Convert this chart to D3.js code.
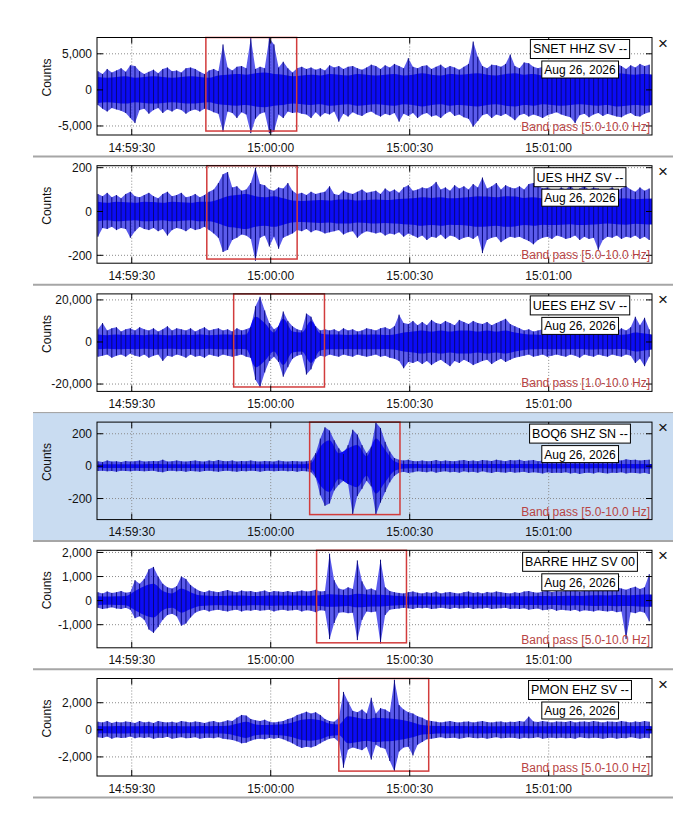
<!DOCTYPE html>
<html>
<head>
<meta charset="utf-8">
<script src="https://cdn.jsdelivr.net/npm/d3@7"></script>
<style>
body { margin: 0; background: #fff; }
svg { display: block; font-family: "Liberation Sans", Arial, sans-serif; }
</style>
</head>
<body>
<svg id="chart" width="694" height="832"></svg>
<script>
// panel settings
const stationNames = ["SNET HHZ SV --", "UES HHZ SV --", "UEES EHZ SV --", "BOQ6 SHZ SN --", "BARRE HHZ SV 00", "PMON EHZ SV --"];
const dateLabel = "Aug 26, 2026";
const bandLabels = ["Band pass [5.0-10.0 Hz]", "Band pass [5.0-10.0 Hz]", "Band pass [1.0-10.0 Hz]",
                    "Band pass [5.0-10.0 Hz]", "Band pass [5.0-10.0 Hz]", "Band pass [5.0-10.0 Hz]"];
const yDomains = [[-6250, 7260], [-236, 209], [-23500, 22860], [-330, 272], [-1960, 2090], [-3410, 3790]];
const yTickVals = [[-5000, 0, 5000], [-200, 0, 200], [-20000, 0, 20000], [-200, 0, 200], [-1000, 0, 1000, 2000], [-2000, 0, 2000]];
// red window: seconds after 14:59:00 and counts
const boxStart = [46.0, 46.2, 52.0, 68.4, 69.9, 74.7];
const boxEnd   = [65.6, 65.7, 71.6, 87.9, 89.3, 94.1];
const boxLow   = [-5700, -217, -21400, -299, -1753, -3048];
const boxHigh  = [7260, 209, 22860, 272, 2090, 3790];

// waveform envelopes, one value per second from 14:59:22.7 (hi / lo peaks, counts)
// core = half width of the dense band, one value every 2 s
const snetHi = [
2600,2200,2900,2400,2700,3000,2500,3400,3300,2600,
2200,2500,2800,2300,2900,3100,2600,2700,2400,3000,
3100,2900,2500,2200,2700,2900,2600,6300,3100,2700,
3200,3300,3000,7200,2900,3200,3000,7200,6300,3100,
3900,3000,2400,3000,3200,2900,3100,2800,3000,2700,
3400,3100,3300,2900,3200,3300,3000,2800,3100,3500,
3300,2900,3400,3100,3600,3300,3000,4400,3200,3000,
3300,3400,2900,3200,3500,3000,3300,3100,2800,3200,
3600,6700,4600,3300,3000,3500,3400,3200,3600,4900,
3300,3000,3800,3700,3200,3000,3200,2900,3100,3300,
2900,3000,2800,3200,3000,2700,3100,2900,3300,3500,
3200,3000,3600,3300,2900,3400,3100,3600,3300,3500];
const snetLo = [
-2100,-2600,-3000,-2500,-2700,-2900,-3200,-3900,-4600,-2800,
-2600,-3300,-2800,-2500,-3200,-2700,-3000,-2600,-2800,-3300,
-2900,-2700,-3000,-2600,-2800,-3100,-3300,-5800,-3000,-3200,
-3900,-3100,-3400,-6000,-4000,-3300,-3100,-6000,-5800,-3400,
-3900,-3000,-3200,-3100,-3300,-3400,-3900,-3100,-3700,-3200,
-3400,-3000,-4400,-3300,-3700,-3100,-3400,-3600,-3200,-3000,
-3400,-3700,-3300,-3500,-3200,-4400,-3300,-3600,-3200,-3900,
-3400,-3200,-3700,-3500,-3900,-3300,-3000,-3600,-3400,-3800,
-4000,-5100,-4300,-3500,-3300,-3900,-3400,-3600,-3300,-3700,
-4200,-3500,-3300,-3700,-3400,-3600,-3900,-3500,-3300,-3100,
-3400,-3600,-3800,-4600,-3500,-3300,-3800,-3400,-3200,-3600,
-3300,-3500,-3700,-3800,-3400,-3200,-3600,-3700,-3300,-3100];
const snetCore = [
1800,1700,1800,1900,1700,1800,1900,1800,1700,1800,
1900,1800,1700,2000,2100,2200,2100,2300,2400,2200,
2100,1900,2000,2100,2000,2200,2100,2000,2200,2100,
2000,2100,2200,2000,2100,2300,2100,2000,2200,2100,
2200,2300,2100,2000,2200,2300,2100,2200,2000,2100,
2200,2100,2000,2100,2200,2100,2300,2200,2100,2200,2100];

const uesHi = [
80,70,85,65,75,60,80,90,70,65,
75,85,70,60,80,90,70,75,85,65,
70,80,65,75,90,100,130,170,180,110,
115,95,100,130,200,125,120,100,95,110,
105,130,95,80,85,75,90,80,85,90,
115,80,75,95,85,80,90,100,85,90,
95,80,105,90,100,85,110,120,95,100,
110,105,115,135,100,110,95,120,105,115,
100,125,110,155,105,115,130,100,120,110,
105,115,100,125,130,120,105,110,100,95,
110,100,120,95,105,115,100,110,105,95,
100,110,95,105,115,100,90,110,95,105];
const uesLo = [
-115,-75,-80,-70,-85,-75,-80,-120,-90,-70,
-80,-85,-75,-90,-80,-110,-85,-75,-80,-90,
-75,-85,-80,-70,-85,-100,-120,-185,-175,-130,
-120,-105,-110,-125,-225,-120,-110,-160,-115,-170,
-120,-110,-100,-85,-90,-80,-95,-85,-90,-100,
-95,-90,-85,-105,-95,-90,-120,-100,-90,-95,
-100,-95,-110,-100,-105,-95,-115,-100,-110,-120,
-110,-130,-115,-120,-105,-125,-110,-115,-130,-120,
-115,-125,-110,-190,-130,-120,-115,-140,-125,-115,
-120,-115,-125,-135,-150,-130,-120,-115,-125,-110,
-115,-125,-120,-110,-130,-115,-125,-120,-175,-130,
-115,-120,-110,-125,-115,-120,-110,-125,-115,-130];
const uesCore = [
45,40,45,42,40,45,43,40,45,42,
40,45,45,55,70,75,80,70,65,70,
60,50,48,50,52,50,55,55,50,52,
55,52,55,58,60,65,62,65,60,62,
65,70,68,65,70,68,62,65,60,62,
60,58,62,60,58,55,58,60,56,58,60];

const ueesHi = [
6000,9000,5500,6500,7000,5000,6000,6500,5500,7000,
6000,5500,6500,5000,6000,7500,5500,6500,6000,5500,
6500,5000,6000,7000,5500,6000,6500,5500,6000,5000,
6500,5500,6000,7000,17000,21500,15000,9000,6000,7500,
14500,10000,7500,6000,5500,13500,12000,7500,5500,6000,
5500,6000,5000,6500,5500,6000,5000,5500,6500,6000,
5500,6500,7000,6000,7500,13000,9000,8500,10000,8000,
9500,8000,10500,9000,8500,10000,9000,8000,10500,9500,
8500,10000,9000,8500,9500,8000,9000,10000,11000,8500,
7500,6500,5500,6000,5000,5500,6000,5000,7000,5500,
5000,6000,5500,5000,6000,5500,5000,6500,5500,6000,
5500,6000,5000,6500,5500,7000,12000,8000,11500,6000];
const ueesLo = [
-7000,-6500,-6000,-7500,-6500,-6000,-7000,-5500,-6500,-7000,
-6000,-7500,-6500,-6000,-9000,-6500,-7000,-6000,-6500,-7500,
-6000,-7000,-6500,-7500,-6000,-6500,-7000,-6000,-6500,-7000,
-6500,-6000,-7000,-7500,-18000,-21500,-14500,-9000,-7000,-9500,
-16500,-12000,-8000,-6500,-6000,-15500,-13000,-8000,-6500,-7000,
-6000,-6500,-7000,-6000,-6500,-7000,-6000,-6500,-7000,-6500,
-6000,-7000,-6500,-7500,-8000,-9000,-12500,-9500,-10000,-9000,
-10500,-9000,-11000,-9500,-8500,-10000,-11500,-9000,-10000,-8500,
-9500,-11000,-10000,-9000,-8500,-10500,-9000,-8000,-9500,-8500,
-7500,-7000,-6500,-6000,-7000,-6500,-6000,-7000,-6500,-6000,
-6500,-7000,-6000,-6500,-7500,-6000,-6500,-7000,-6000,-6500,
-7000,-6000,-6500,-7000,-6000,-6500,-10000,-8000,-11500,-7000];
const ueesCore = [
3500,3200,3500,3300,3400,3200,3500,3300,3200,3400,
3300,3500,3200,3400,3500,3300,3500,12000,9000,4500,
11000,5000,4500,10000,4000,3500,3500,3300,3500,3400,
3500,3300,3600,4500,5000,5500,5000,5500,5000,5500,
5500,5000,5500,5000,5500,4500,3800,3500,3300,3500,
3400,3500,3300,3600,3400,3500,3300,3500,4500,4000,3500];

const boqHi = [
30,25,35,28,30,25,32,28,30,35,
28,30,32,30,40,28,30,35,30,28,
32,35,30,28,35,30,38,32,30,35,
28,32,30,35,30,28,32,30,28,35,
30,28,32,30,28,30,35,80,170,240,
220,160,110,75,130,225,195,130,80,120,
270,235,150,90,50,40,35,40,32,30,
35,30,32,38,30,35,32,30,35,38,
32,35,30,38,35,32,40,35,30,38,
35,40,32,35,38,30,35,40,35,38,
40,35,38,42,35,40,38,35,42,38,
35,40,38,35,42,38,40,35,38,40];
const boqLo = [
-30,-28,-32,-30,-35,-28,-30,-32,-28,-30,
-32,-30,-28,-35,-38,-30,-28,-32,-30,-35,
-30,-32,-35,-30,-28,-32,-35,-30,-28,-32,
-35,-30,-32,-28,-30,-35,-30,-28,-32,-30,
-28,-32,-30,-35,-30,-32,-38,-70,-180,-245,
-230,-150,-115,-90,-110,-300,-185,-140,-90,-125,
-300,-225,-160,-100,-60,-40,-35,-42,-38,-32,
-35,-38,-32,-40,-35,-32,-38,-35,-40,-32,
-38,-35,-40,-32,-38,-42,-35,-38,-40,-35,
-40,-38,-35,-42,-38,-40,-45,-38,-42,-40,
-42,-38,-45,-40,-48,-42,-40,-45,-38,-42,
-45,-40,-42,-38,-45,-40,-42,-45,-40,-48];
const boqCore = [
12,11,12,12,11,12,13,12,12,11,
12,12,11,12,12,12,11,12,12,12,
11,12,12,20,120,160,80,110,130,60,
170,100,30,14,13,12,12,13,12,13,
12,13,12,13,13,12,13,14,13,14,
14,13,14,14,13,14,14,13,14,14,14];

const barreHi = [
350,300,380,320,350,400,330,360,850,700,
900,1300,1400,1000,700,550,500,600,1000,900,
650,500,400,350,420,380,350,400,440,380,
350,420,380,400,350,380,420,350,400,380,
360,400,350,380,420,380,400,450,380,400,
1950,850,500,450,550,480,1670,800,450,500,
420,1700,550,400,350,320,300,350,380,330,
300,350,320,380,300,340,360,320,300,350,
380,320,350,300,360,330,380,350,320,300,
350,320,380,400,350,330,380,420,350,400,
380,420,400,450,380,420,400,450,480,420,
500,450,550,500,450,520,580,480,550,1100];
const barreLo = [
-300,-350,-320,-280,-330,-350,-300,-380,-730,-650,
-800,-1200,-1340,-1100,-800,-600,-550,-650,-1040,-950,
-700,-500,-420,-380,-450,-400,-380,-420,-450,-400,
-380,-450,-400,-420,-380,-420,-400,-380,-450,-400,
-380,-420,-400,-380,-450,-400,-420,-480,-400,-420,
-1600,-930,-500,-480,-520,-500,-1640,-800,-450,-480,
-450,-1780,-600,-380,-350,-330,-300,-320,-350,-300,
-320,-300,-350,-330,-300,-320,-350,-300,-330,-320,
-300,-350,-320,-330,-300,-350,-330,-320,-300,-350,
-330,-350,-320,-380,-350,-330,-400,-380,-350,-420,
-380,-400,-420,-380,-450,-400,-420,-450,-400,-430,
-450,-420,-480,-450,-1600,-480,-520,-450,-500,-860];
const barreCore = [
180,170,180,190,400,600,700,400,300,500,
350,220,200,190,200,210,200,190,200,210,
200,210,200,200,220,260,240,220,280,250,
240,230,200,180,170,180,170,175,170,180,
175,170,180,175,170,180,185,180,190,185,
190,200,195,210,220,210,230,220,230,250,250];

const pmonHi = [
600,550,650,500,600,550,620,580,500,650,
550,600,500,650,580,550,600,520,650,600,
550,620,580,500,600,650,550,600,700,650,
900,1100,1050,800,700,650,750,600,550,600,
650,800,900,1100,1200,1340,1200,1300,1100,800,
650,600,900,2800,2070,1400,1300,1500,1200,2370,
1200,1600,1500,1300,3700,1830,1500,1300,1200,1000,
900,700,650,600,550,600,650,580,550,600,
620,550,600,650,580,550,600,620,550,600,
580,650,600,975,620,580,650,600,550,620,
600,580,650,550,600,620,580,650,600,550,
620,600,580,650,600,550,620,580,650,600];
const pmonLo = [
-550,-600,-500,-650,-550,-600,-580,-500,-620,-550,
-600,-550,-650,-580,-600,-520,-650,-600,-550,-620,
-600,-550,-650,-600,-580,-620,-550,-650,-700,-750,
-850,-1000,-950,-800,-700,-650,-700,-600,-650,-600,
-700,-850,-1000,-1200,-1340,-1250,-1300,-1200,-1000,-800,
-650,-600,-900,-2800,-1460,-1300,-1400,-1500,-1250,-2200,
-1100,-1300,-1400,-2300,-3050,-1600,-1300,-1250,-1900,-1100,
-900,-700,-650,-600,-550,-620,-600,-580,-650,-600,
-550,-600,-620,-580,-650,-600,-550,-620,-600,-580,
-600,-650,-580,-620,-600,-550,-650,-600,-580,-620,
-580,-620,-600,-650,-550,-600,-620,-580,-600,-650,
-600,-580,-650,-600,-620,-550,-600,-650,-580,-620];
const pmonCore = [
280,260,280,270,260,280,270,260,280,270,
260,280,270,280,300,450,600,400,350,380,
420,550,750,800,700,450,400,1000,900,800,
900,850,800,700,550,350,300,280,270,280,
270,280,270,260,280,270,280,270,260,280,
270,280,260,270,280,270,260,280,270,280,270];

const hiSets = [snetHi, uesHi, ueesHi, boqHi, barreHi, pmonHi];
const loSets = [snetLo, uesLo, ueesLo, boqLo, barreLo, pmonLo];
const coreSets = [snetCore, uesCore, ueesCore, boqCore, barreCore, pmonCore];
const highlighted = 3;
const firstSample = 22.7;   // seconds after 14:59:00

function run() {
  var base = Date.UTC(2026, 7, 26, 14, 59, 0);
  function sec(s) { return new Date(base + s * 1000); }

  var plotL = 97, plotR = 652, plotH = 97.5, step = 128.2;
  var svg = d3.select("#chart");
  var x = d3.scaleUtc().domain([sec(22.5), sec(142.3)]).range([plotL, plotR]);
  var xTicks = x.ticks(d3.utcSecond.every(30));
  var fmtX = d3.utcFormat("%H:%M:%S");
  var fmtY = d3.formatLocale({decimal: ".", thousands: ",", grouping: [3], currency: ["", ""], minus: "-"}).format(",");

  stationNames.forEach(function (name, n) {
    var top = 37.5 + n * step, bot = top + plotH;
    var y = d3.scaleLinear().domain(yDomains[n]).range([bot, top]);
    var g = svg.append("g");
    var hl = n === highlighted;

    if (hl) {
      g.append("rect").attr("x", 33).attr("y", top - 9).attr("width", 640).attr("height", step)
        .attr("fill", "#c9dcf1");
    }
    g.append("rect").attr("x", plotL).attr("y", top).attr("width", plotR - plotL).attr("height", plotH)
      .attr("fill", hl ? "#c9dcf1" : "#fff");

    // dotted grid
    g.selectAll("line.gx").data(xTicks).join("line")
      .attr("x1", d => x(d)).attr("x2", d => x(d)).attr("y1", top).attr("y2", bot)
      .attr("stroke", "#8a8a8a").attr("stroke-dasharray", "1,2");
    g.selectAll("line.gy").data(yTickVals[n]).join("line")
      .attr("x1", plotL).attr("x2", plotR).attr("y1", d => y(d)).attr("y2", d => y(d))
      .attr("stroke", "#8a8a8a").attr("stroke-dasharray", "1,2");

    // waveform
    var clipId = "clip" + n;
    g.append("clipPath").attr("id", clipId).append("rect")
      .attr("x", plotL).attr("y", top).attr("width", plotR - plotL).attr("height", plotH);
    var w = g.append("g").attr("clip-path", "url(#" + clipId + ")");
    var samples = hiSets[n].map(function (h, i) {
      return {t: sec(firstSample + i), hi: h, lo: loSets[n][i]};
    });
    var cores = coreSets[n].map(function (c, k) { return {t: sec(firstSample + 2 * k), c: c}; });

    w.append("path").datum(samples)
      .attr("d", d3.area().x(d => x(d.t)).y0(d => y(d.lo)).y1(d => y(d.hi)))
      .attr("fill", "#1c1ce4").attr("fill-opacity", 0.72);
    w.append("path").datum(cores)
      .attr("d", d3.area().curve(d3.curveMonotoneX).x(d => x(d.t)).y0(d => y(-d.c)).y1(d => y(d.c)))
      .attr("fill", "#0c0cf4");
    w.selectAll("line.sp").data(samples).join("line")
      .attr("x1", d => x(d.t)).attr("x2", d => x(d.t))
      .attr("y1", d => y(d.lo)).attr("y2", d => y(d.hi))
      .attr("stroke", "#08087a").attr("stroke-width", 1);

    // red window
    g.append("rect")
      .attr("x", x(sec(boxStart[n]))).attr("y", y(boxHigh[n]))
      .attr("width", x(sec(boxEnd[n])) - x(sec(boxStart[n])))
      .attr("height", y(boxLow[n]) - y(boxHigh[n]))
      .attr("fill", "none").attr("stroke", "#d23c3c").attr("stroke-width", 1.5);

    // solid tick marks
    g.selectAll("line.tx").data(xTicks).join("line")
      .attr("x1", d => x(d)).attr("x2", d => x(d)).attr("y1", top).attr("y2", top + 6)
      .attr("stroke", "#000");
    g.selectAll("line.bx").data(xTicks).join("line")
      .attr("x1", d => x(d)).attr("x2", d => x(d)).attr("y1", bot - 6).attr("y2", bot)
      .attr("stroke", "#000");
    g.selectAll("line.ly").data(yTickVals[n]).join("line")
      .attr("x1", plotL).attr("x2", plotL + 6).attr("y1", d => y(d)).attr("y2", d => y(d))
      .attr("stroke", "#000");
    g.selectAll("line.ry").data(yTickVals[n]).join("line")
      .attr("x1", plotR - 6).attr("x2", plotR).attr("y1", d => y(d)).attr("y2", d => y(d))
      .attr("stroke", "#000");

    g.append("rect").attr("x", plotL).attr("y", top).attr("width", plotR - plotL).attr("height", plotH)
      .attr("fill", "none").attr("stroke", "#000");

    // tick labels
    g.selectAll("text.xl").data(xTicks).join("text")
      .attr("x", d => x(d)).attr("y", bot + 16.5).attr("text-anchor", "middle")
      .attr("font-size", 12).attr("fill", "#111").text(d => fmtX(d));
    g.selectAll("text.yl").data(yTickVals[n]).join("text")
      .attr("x", 92).attr("y", d => y(d) + 4.2).attr("text-anchor", "end")
      .attr("font-size", 12).attr("fill", "#111").text(d => fmtY(d));
    g.append("text").attr("transform", "translate(51," + (top + 40) + ") rotate(-90)")
      .attr("text-anchor", "middle").attr("font-size", 12).attr("fill", "#111").text("Counts");

    // station + date boxes
    var st = g.append("text").attr("x", 580).attr("y", top + 15.8).attr("text-anchor", "middle")
      .attr("font-size", 12.5).attr("fill", "#000").text(name);
    var b1 = st.node().getBBox();
    g.insert("rect", function () { return st.node(); })
      .attr("x", b1.x - 2.5).attr("y", top + 2).attr("width", b1.width + 5).attr("height", 19)
      .attr("fill", "#fff").attr("stroke", "#000");
    var dt = g.append("text").attr("x", 580).attr("y", top + 36.5).attr("text-anchor", "middle")
      .attr("font-size", 12).attr("fill", "#000").text(dateLabel);
    var b2 = dt.node().getBBox();
    g.insert("rect", function () { return dt.node(); })
      .attr("x", b2.x - 2.5).attr("y", top + 23.5).attr("width", b2.width + 5).attr("height", 17)
      .attr("fill", "#fff").attr("stroke", "#000");

    g.append("text").attr("x", 650).attr("y", bot - 4).attr("text-anchor", "end")
      .attr("font-size", 12).attr("fill", "#b84444").text(bandLabels[n]);

    g.append("text").attr("x", 663).attr("y", top + 11).attr("text-anchor", "middle")
      .attr("font-size", 17).attr("fill", "#111").text("×");

    // separator under the panel
    g.append("line").attr("x1", 33).attr("x2", 673).attr("y1", top + 119).attr("y2", top + 119)
      .attr("stroke", "#a6a6a6").attr("stroke-width", 2);
  });
}

run();
</script>
</body>
</html>
